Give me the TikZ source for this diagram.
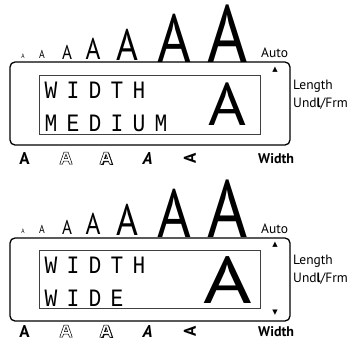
\documentclass[tikz,border=0pt]{standalone}
\usepackage{fontspec}
\usepackage{graphicx}
\setmainfont{PT Sans}
\newfontfamily\lcdfont[FakeStretch=0.85]{Liberation Mono}
\newfontfamily\symfont{DejaVu Sans}
\tikzset{
  panel/.style = {draw=black, line width=1.3pt, rounded corners=5pt, inner sep=0pt},
  screen/.style = {draw=black!75, line width=0.8pt, inner sep=0pt},
  sizeA/.style = {anchor=base, inner sep=0pt, font=\fontsize{#1}{#1}\selectfont},
  lcd/.style = {anchor=base, inner sep=0pt, font=\lcdfont\fontsize{25}{25}\selectfont},
  side/.style = {anchor=base west, inner sep=0pt, font=\fontsize{13.5}{13.5}\selectfont},
  attr/.style = {anchor=base, inner sep=0pt, font=\bfseries\fontsize{17}{17}\selectfont},
  tri/.style = {inner sep=0pt, font=\symfont\fontsize{7}{7}\selectfont},
  pathA/.style = {insert path={(-6.2,0) -- (-2,-12) -- (2,-12) -- (6.2,0) -- (3.4,0) -- (2.5,-2.8)
    -- (-2.5,-2.8) -- (-3.4,0) -- cycle (-1.6,-5.4) -- (0,-9.8) -- (1.6,-5.4) -- cycle}},
  hollowA/.pic = {\draw[line width=0.5pt, fill=white, even odd rule, pathA];},
  shadowA/.pic = {
    \fill[even odd rule, shift={(1,0.8)}, pathA];
    \draw[line width=0.5pt, fill=white, even odd rule, pathA];
  }
}

\begin{document}
\begin{tikzpicture}[x=1pt, y=-1pt]
\useasboundingbox (0,0) rectangle (360,341);

% ----- PANEL 1: WIDTH MEDIUM -----
% Size row
\node[sizeA=6.5] (p1a1) at (23,58) {\scalebox{0.85}[1]{A}};
\node[sizeA=11.5] (p1a2) at (42,58) {\scalebox{0.85}[1]{A}};
\node[sizeA=20] (p1a3) at (67,59) {\scalebox{0.85}[1]{A}};
\node[sizeA=30] (p1a4) at (93,59) {\scalebox{0.85}[1]{A}};
\node[sizeA=44] (p1a5) at (127,60) {\scalebox{0.85}[1]{A}};
\node[sizeA=68] (p1a6) at (174,62) {\scalebox{0.85}[1]{A}};
\node[sizeA=81] (p1a7) at (228,62) {\scalebox{0.85}[1]{A}};
\node[side] (p1auto) at (261,57) {Auto};

% Display
\node[panel, minimum width=280pt, minimum height=83pt] (p1box) at (150,103.5) {};
\node[screen, minimum width=221pt, minimum height=59pt] (p1scr) at (149.5,104.5) {};
\foreach \ch [count=\i from 0] in {W,I,D,T,H}
  \node[lcd] (p1r1\i) at (51+22*\i,98) {\ch};
\foreach \ch [count=\i from 0] in {M,E,D,I,U,M}
  \node[lcd] (p1r2\i) at (51+22*\i,131) {\ch};
\node[sizeA=60] (p1big) at (227.5,125) {\scalebox{1.08}[1]{A}};
\node[tri] (p1up) at (275,70) {▲};

% Side labels
\node[side] (p1len) at (293,89) {Length};
\node[side] (p1undl) at (293,107) {Und{\bfseries l}/Frm};

% Attribute row
\node[attr] (p1bold) at (24.5,164) {A};
\pic (p1outl) at (66,164) {hollowA};
\pic (p1shd) at (106,164) {shadowA};
\node[attr, font=\bfseries\itshape\fontsize{17}{17}\selectfont] (p1ital) at (147.5,164) {A};
\node[attr, anchor=center, rotate=90] (p1vert) at (190,158) {A};
\node[side, font=\bfseries\fontsize{14}{14}\selectfont] (p1wid) at (258,163) {Width};

% ----- PANEL 2: WIDTH WIDE -----
% Size row
\node[sizeA=6.5] (p2a1) at (23,233) {\scalebox{0.85}[1]{A}};
\node[sizeA=11.5] (p2a2) at (42,233) {\scalebox{0.85}[1]{A}};
\node[sizeA=20] (p2a3) at (67,234) {\scalebox{0.85}[1]{A}};
\node[sizeA=30] (p2a4) at (93,234) {\scalebox{0.85}[1]{A}};
\node[sizeA=44] (p2a5) at (127,235) {\scalebox{0.85}[1]{A}};
\node[sizeA=68] (p2a6) at (174,237) {\scalebox{0.85}[1]{A}};
\node[sizeA=81] (p2a7) at (228,237) {\scalebox{0.85}[1]{A}};
\node[side] (p2auto) at (261,233) {Auto};

% Display
\node[panel, minimum width=280pt, minimum height=83pt] (p2box) at (150,279.5) {};
\node[screen, minimum width=221pt, minimum height=58pt] (p2scr) at (149.5,279) {};
\foreach \ch [count=\i from 0] in {W,I,D,T,H}
  \node[lcd] (p2r1\i) at (51+22*\i,273) {\ch};
\foreach \ch [count=\i from 0] in {W,I,D,E}
  \node[lcd] (p2r2\i) at (51+22*\i,306) {\ch};
\node[sizeA=66] (p2big) at (228,303) {\scalebox{1.26}[1]{A}};
\node[tri] (p2up) at (275,245) {▲};
\node[tri] (p2down) at (275,313) {▼};

% Side labels
\node[side] (p2len) at (293,264) {Length};
\node[side] (p2undl) at (293,282) {Und{\bfseries l}/Frm};

% Attribute row
\node[attr] (p2bold) at (24.5,337) {A};
\pic (p2outl) at (66,337) {hollowA};
\pic (p2shd) at (106,337) {shadowA};
\node[attr, font=\bfseries\itshape\fontsize{17}{17}\selectfont] (p2ital) at (147.5,337) {A};
\node[attr, anchor=center, rotate=90] (p2vert) at (190,331) {A};
\node[side, font=\bfseries\fontsize{14}{14}\selectfont] (p2wid) at (258,336) {Width};

\end{tikzpicture}
\end{document}
